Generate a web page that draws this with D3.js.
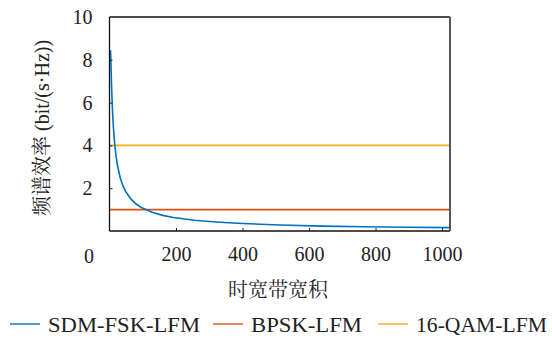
<!DOCTYPE html>
<html>
<head>
<meta charset="utf-8">
<script src="https://cdn.jsdelivr.net/npm/d3@7"></script>
<style>
  html, body { margin: 0; padding: 0; background: #fff; }
  svg { display: block; }
</style>
</head>
<body>
<svg id="chart" width="552" height="338"></svg>
<script>
// Time-bandwidth product (x) and spectral efficiency in bit/(s·Hz) (y)
const tbProduct = [3, 4, 5, 6, 8, 10, 12, 16, 20, 24, 32, 40, 48, 64, 80, 96, 128, 160, 192, 256, 320, 384, 512, 640, 768, 896, 1024];
const sdmFskLfm = [8.45, 8.00, 7.43, 6.89, 6.00, 5.32, 4.78, 4.00, 3.46, 3.06, 2.50, 2.13, 1.86, 1.50, 1.26, 1.10, 0.88, 0.73, 0.63, 0.50, 0.42, 0.36, 0.28, 0.23, 0.20, 0.175, 0.156];
const bpskLfm = 1;
const qam16Lfm = 4;

const seriesNames = ["SDM-FSK-LFM", "BPSK-LFM", "16-QAM-LFM"];
const seriesColors = ["#0072BD", "#D95319", "#EDB120"];

const xTicks = [200, 400, 600, 800, 1000];
const yTicks = [2, 4, 6, 8, 10];
const xDomain = [0, 1024];
const yDomain = [0, 10];

const svg = d3.select("#chart");
const plot = { left: 109.5, right: 450, top: 17, bottom: 231 };
const LATIN = "serif";
const CJK = "Noto Serif CJK SC";
const INK = "#222";

const x = d3.scaleLinear().domain(xDomain).range([plot.left, plot.right]);
const y = d3.scaleLinear().domain(yDomain).range([plot.bottom, plot.top]);

// Series lines
const line = d3.line().x(d => x(d[0])).y(d => y(d[1]));
const curve = tbProduct.map((t, i) => [t, sdmFskLfm[i]]);

svg.append("path")
  .datum(xDomain.map(t => [t, qam16Lfm]))
  .attr("d", line).attr("fill", "none")
  .attr("stroke", seriesColors[2]).attr("stroke-width", 1.7);

svg.append("path")
  .datum(xDomain.map(t => [t, bpskLfm]))
  .attr("d", line).attr("fill", "none")
  .attr("stroke", seriesColors[1]).attr("stroke-width", 1.7);

svg.append("path")
  .datum(curve)
  .attr("d", line).attr("fill", "none")
  .attr("stroke", seriesColors[0]).attr("stroke-width", 1.6);

// Axes with inward ticks
const xAxis = svg.append("g")
  .attr("transform", `translate(0,${plot.bottom})`)
  .call(d3.axisBottom(x).tickValues(xTicks).tickFormat(d3.format("d"))
    .tickSizeInner(-3).tickSizeOuter(0).tickPadding(16));
xAxis.attr("font-family", LATIN);
xAxis.select(".domain").remove();
xAxis.selectAll("text").attr("font-family", LATIN).attr("font-size", 20)
  .attr("dy", "0.71em").attr("fill", INK);
xAxis.selectAll("line").attr("stroke", INK);

const yAxis = svg.append("g")
  .attr("transform", `translate(${plot.left},0)`)
  .call(d3.axisLeft(y).tickValues(yTicks).tickSizeInner(-3).tickSizeOuter(0).tickPadding(17));
yAxis.attr("font-family", LATIN);
yAxis.select(".domain").remove();
yAxis.selectAll("text").attr("font-family", LATIN).attr("font-size", 20).attr("fill", INK);
yAxis.selectAll("line").attr("stroke", INK);
yAxis.selectAll(".tick").filter(d => d === 10).select("line").remove();

// Origin label
svg.append("text")
  .attr("x", 89).attr("y", plot.bottom + 18)
  .attr("dy", "0.71em").attr("text-anchor", "middle")
  .attr("font-family", LATIN).attr("font-size", 20).attr("fill", INK).text("0");

// Frame
svg.append("line").attr("x1", plot.left).attr("x2", plot.right)
  .attr("y1", plot.top).attr("y2", plot.top).attr("stroke", "#111").attr("stroke-width", 1.3);
svg.append("line").attr("x1", plot.left).attr("x2", plot.right)
  .attr("y1", plot.bottom).attr("y2", plot.bottom).attr("stroke", "#111").attr("stroke-width", 1.3);
svg.append("line").attr("x1", plot.left).attr("x2", plot.left)
  .attr("y1", plot.top).attr("y2", plot.bottom).attr("stroke", "#111").attr("stroke-width", 1.3);
svg.append("line").attr("x1", plot.right).attr("x2", plot.right)
  .attr("y1", plot.top).attr("y2", plot.bottom).attr("stroke", "#555").attr("stroke-width", 2);

// Axis titles
svg.append("text")
  .attr("x", 278).attr("y", 297)
  .attr("text-anchor", "middle").attr("font-family", CJK)
  .attr("font-size", 20).attr("fill", INK).text("时宽带宽积");

const yTitle = svg.append("text")
  .attr("transform", `translate(49,${(plot.top + plot.bottom) / 2 + 4}) rotate(-90)`)
  .attr("text-anchor", "middle").attr("font-size", 20).attr("fill", INK);
yTitle.append("tspan").attr("font-family", CJK).text("频谱效率 ");
yTitle.append("tspan").attr("font-family", LATIN).text("(bit/(s·Hz))");

// Legend
const legendX = [10, 213, 378];
const legendW = [152, 111, 131];
const legend = svg.append("g").attr("font-family", LATIN);
seriesNames.forEach((name, i) => {
  legend.append("line")
    .attr("x1", legendX[i]).attr("x2", legendX[i] + 30)
    .attr("y1", 324).attr("y2", 324)
    .attr("stroke", seriesColors[i]).attr("stroke-width", 1.4);
  legend.append("text")
    .attr("x", legendX[i] + 38).attr("y", 332)
    .attr("font-family", LATIN).attr("font-size", 20).attr("fill", INK)
    .attr("textLength", legendW[i]).attr("lengthAdjust", "spacingAndGlyphs")
    .text(name);
});
</script>
</body>
</html>
